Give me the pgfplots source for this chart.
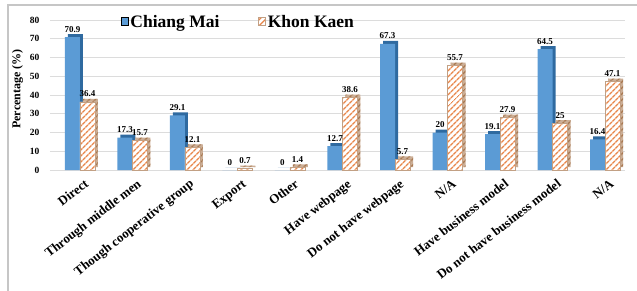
\documentclass[border=0pt]{standalone}
\usepackage{fontspec}
\setmainfont{Liberation Serif}
\usepackage{pgfplots}
\pgfplotsset{compat=1.18}
\usetikzlibrary{patterns.meta}
\definecolor{cmblue}{HTML}{5B9BD5}
\definecolor{cmdark}{HTML}{2F6AA0}
\definecolor{kkor}{HTML}{E8864A}
\definecolor{kkdark}{HTML}{A87850}
\definecolor{gridc}{HTML}{DCDCDC}
\begin{document}
\begin{tikzpicture}
\path[use as bounding box] (-50pt,-120pt) rectangle (587pt,170pt);
\draw[gray!45, line width=1.5pt] (-42pt,-130pt) -- (-42pt,165pt) -- (600pt,165pt);
\begin{axis}[
  at={(0,0)}, anchor=south west,
  width=575pt, height=150pt, scale only axis,
  ymin=0, ymax=80, xmin=-0.57, xmax=10.38,
  ybar=0pt, bar width=15pt,
  axis line style={draw=none},
  ymajorgrids, grid style={gridc, line width=0.8pt},
  major tick length=0pt,
  ytick={0,10,...,80},
  xtick={0,...,10},
  xticklabels={Direct, Through middle men, Though cooperative group, Export, Other, Have webpage, Do not have webpage, N/A, Have business model, Do not have business model, N/A},
  /pgf/number format/assume math mode=true,
  yticklabel style={font=\bfseries\fontsize{9.5}{10}\selectfont, xshift=-7pt},
  xticklabel style={rotate=38, anchor=base east, font=\bfseries\fontsize{13}{14}\selectfont, inner sep=0pt, yshift=-18pt, xshift=-2pt},
  ylabel={Percentage (\%)},
  ylabel style={font=\bfseries\fontsize{12}{13}\selectfont, xshift=6pt},
  nodes near coords,
  nodes near coords style={font=\bfseries\fontsize{9}{10}\selectfont, text=black, inner sep=1.5pt, yshift=3pt},
  legend style={at={(0.118,1.06)}, anchor=north west, draw=none, fill=none,
    legend columns=2, font=\bfseries\fontsize{17.5}{18}\selectfont,
    /tikz/every even column/.append style={column sep=37pt}},
  legend image code/.code={\draw[#1] (0pt,-3.5pt) rectangle (7pt,4.5pt);},
]
\addplot[forget plot, bar shift=-4.5pt, yshift=3pt, fill=cmdark, draw=none, nodes near coords={}] coordinates {(0,70.9) (1,17.3) (2,29.1) (3,0) (4,0) (5,12.7) (6,67.3) (7,20) (8,19.1) (9,64.5) (10,16.4)};
\addplot[bar shift=-7.5pt, fill=cmblue, draw=none] coordinates {(0,70.9) (1,17.3) (2,29.1) (3,0) (4,0) (5,12.7) (6,67.3) (7,20) (8,19.1) (9,64.5) (10,16.4)};
\addplot[forget plot, bar shift=10.5pt, yshift=3pt, fill=kkdark!60, draw=none, postaction={pattern={Lines[angle=45,distance=4pt,line width=1.4pt]}, pattern color=kkdark}, nodes near coords={}] coordinates {(0,36.4) (1,15.7) (2,12.1) (3,0.7) (4,1.4) (5,38.6) (6,5.7) (7,55.7) (8,27.9) (9,25) (10,47.1)};
\addplot[bar shift=7.5pt, fill=white, draw=kkdark!70, line width=0.4pt, postaction={pattern={Lines[angle=45,distance=4pt,line width=1.5pt]}, pattern color=kkor}] coordinates {(0,36.4) (1,15.7) (2,12.1) (3,0.7) (4,1.4) (5,38.6) (6,5.7) (7,55.7) (8,27.9) (9,25) (10,47.1)};
\legend{Chiang Mai, Khon Kaen}
\end{axis}
\end{tikzpicture}
\end{document}
